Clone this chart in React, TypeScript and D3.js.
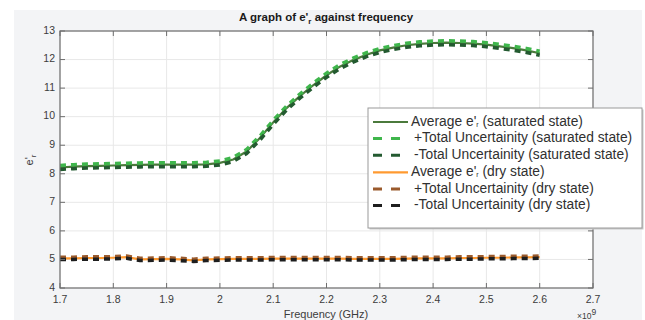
import React from "react";
import * as d3 from "d3";

// frequency in GHz (axis shows x10^9 Hz)
const freq = [
  1.7, 1.725, 1.75, 1.775, 1.8, 1.825, 1.85, 1.875, 1.9, 1.925, 1.95, 1.975,
  2.0, 2.025, 2.05, 2.075, 2.1, 2.125, 2.15, 2.175, 2.2, 2.225, 2.25, 2.275,
  2.3, 2.325, 2.35, 2.375, 2.4, 2.425, 2.45, 2.475, 2.5, 2.525, 2.55, 2.575, 2.6,
];

const satAvg = [
  8.22, 8.25, 8.27, 8.28, 8.29, 8.3, 8.31, 8.32, 8.32, 8.32, 8.32, 8.33,
  8.38, 8.5, 8.78, 9.25, 9.8, 10.3, 10.72, 11.1, 11.45, 11.75, 11.98, 12.17,
  12.32, 12.42, 12.5, 12.55, 12.58, 12.59, 12.58, 12.56, 12.52, 12.46, 12.4, 12.32, 12.22,
];
const satUnc = 0.07;

const dryAvg = [
  5.04, 5.04, 5.05, 5.05, 5.06, 5.08, 5.0, 5.01, 5.02, 5.0, 4.97, 5.0,
  5.01, 5.02, 5.02, 5.02, 5.03, 5.03, 5.03, 5.03, 5.03, 5.03, 5.02, 5.02,
  5.02, 5.02, 5.03, 5.04, 5.04, 5.04, 5.05, 5.05, 5.06, 5.06, 5.07, 5.07, 5.08,
];
const dryUnc = 0.04;

const xTicks = [1.7, 1.8, 1.9, 2.0, 2.1, 2.2, 2.3, 2.4, 2.5, 2.6, 2.7];
const yTicks = [4, 5, 6, 7, 8, 9, 10, 11, 12, 13];

const legendLabels = [
  "(saturated state)",
  "+Total Uncertainity (saturated state)",
  "-Total Uncertainity (saturated state)",
  "(dry state)",
  "+Total Uncertainity (dry state)",
  "-Total Uncertainity (dry state)",
];

const FONT = "'Liberation Sans', Arial, Helvetica, sans-serif";

export default function App() {
  const W = 645;
  const H = 320;
  const m = { left: 60, right: 593, top: 31, bottom: 288 };

  const x = d3.scaleLinear().domain([1.7, 2.7]).range([m.left, m.right]);
  const y = d3.scaleLinear().domain([4, 13]).range([m.bottom, m.top]);

  const line = (vals: number[], off: number) =>
    d3
      .line<number>()
      .x((_, i) => x(freq[i]))
      .y((v) => y(v + off))(vals) || "";

  const series = [
    { d: line(satAvg, 0), color: "#4b7a3c", dash: "", w: 2.2 },
    { d: line(satAvg, satUnc), color: "#3fb64c", dash: "6 5", w: 3.5 },
    { d: line(satAvg, -satUnc), color: "#235a30", dash: "6 5", w: 3.5 },
    { d: line(dryAvg, 0), color: "#ff9a30", dash: "", w: 2.2 },
    { d: line(dryAvg, dryUnc), color: "#9a5a2c", dash: "6 5", w: 3.5 },
    { d: line(dryAvg, -dryUnc), color: "#1e1e1e", dash: "6 5", w: 3.5 },
  ];

  const axisColor = "#6e6e6e";
  const lg = { x: 368, y: 108, w: 274, h: 120, row: 16.6 };

  return (
    <svg
      width={W}
      height={H}
      style={{ position: "fixed", left: 0, top: 0, background: "#fff" }}
      fontFamily={FONT}
    >
      <rect x={14} y={10} width={628} height={310} fill="#f3f4f6" />
      <rect
        x={m.left}
        y={m.top}
        width={m.right - m.left}
        height={m.bottom - m.top}
        fill="#fff"
      />
      {/* grid */}
      {xTicks.map((t) => (
        <line key={"gx" + t} x1={x(t)} x2={x(t)} y1={m.top} y2={m.bottom} stroke="#e8e8e8" />
      ))}
      {yTicks.map((t) => (
        <line key={"gy" + t} x1={m.left} x2={m.right} y1={y(t)} y2={y(t)} stroke="#e8e8e8" />
      ))}
      {/* data */}
      <g clipPath="url(#clip)">
        {series.map((s, i) => (
          <path
            key={i}
            d={s.d}
            fill="none"
            stroke={s.color}
            strokeWidth={s.w}
            strokeDasharray={s.dash || undefined}
          />
        ))}
      </g>
      {/* box + ticks */}
      <rect
        x={m.left}
        y={m.top}
        width={m.right - m.left}
        height={m.bottom - m.top}
        fill="none"
        stroke={axisColor}
        strokeWidth={1.2}
      />
      {xTicks.map((t) => (
        <g key={"tx" + t}>
          <line x1={x(t)} x2={x(t)} y1={m.bottom} y2={m.bottom - 5} stroke={axisColor} />
          <line x1={x(t)} x2={x(t)} y1={m.top} y2={m.top + 5} stroke={axisColor} />
          <text
            x={x(t)}
            y={300}
            fontSize={10.5}
            fill="#3c3c3c"
            textAnchor="middle"
            dominantBaseline="middle"
          >
            {d3.format("")(t)}
          </text>
        </g>
      ))}
      {yTicks.map((t) => (
        <g key={"ty" + t}>
          <line x1={m.left} x2={m.left + 5} y1={y(t)} y2={y(t)} stroke={axisColor} />
          <line x1={m.right} x2={m.right - 5} y1={y(t)} y2={y(t)} stroke={axisColor} />
          <text
            x={55}
            y={y(t)}
            fontSize={10.5}
            fill="#3c3c3c"
            textAnchor="end"
            dominantBaseline="middle"
          >
            {t}
          </text>
        </g>
      ))}
      {/* title */}
      <text x={326} y={21} fontSize={11.5} fontWeight="bold" fill="#1a1a1a" textAnchor="middle">
        A graph of e'
        <tspan dy={3} fontSize={8}>r</tspan>
        <tspan dy={-3}> against frequency</tspan>
      </text>
      {/* y label */}
      <text
        transform="translate(33,160) rotate(-90)"
        fontSize={11}
        fill="#3c3c3c"
        textAnchor="middle"
      >
        e'
        <tspan dy={3} fontSize={8}>r</tspan>
      </text>
      {/* x label */}
      <text x={326} y={318} fontSize={11} fill="#3c3c3c" textAnchor="middle">
        Frequency (GHz)
      </text>
      <text x={577} y={319} fontSize={8.5} fill="#3c3c3c">
        ×10
        <tspan dy={-4} fontSize={8.5}>9</tspan>
      </text>
      {/* legend */}
      <rect x={lg.x + 1.5} y={lg.y + 1.5} width={lg.w} height={lg.h} fill="#c8c8c8" />
      <rect x={lg.x} y={lg.y} width={lg.w} height={lg.h} fill="#fff" stroke="#9a9a9a" />
      {series.map((s, i) => {
        const cy = lg.y + 14 + i * lg.row + (i >= 3 ? 0.5 : 0);
        const avg = i === 0 || i === 3;
        return (
          <g key={"lg" + i}>
            <line
              x1={373}
              x2={408}
              y1={cy}
              y2={cy}
              stroke={s.color}
              strokeWidth={avg ? 2.2 : 3}
              strokeDasharray={avg ? undefined : "9 9"}
            />
            <text x={avg ? 411 : 414} y={cy} fontSize={13.8} fill="#303030" dominantBaseline="middle">
              {avg ? (
                <>
                  Average e'
                  <tspan dy={3} fontSize={7}>r</tspan>
                  <tspan dy={-3}> {legendLabels[i]}</tspan>
                </>
              ) : (
                legendLabels[i]
              )}
            </text>
          </g>
        );
      })}
      <defs>
        <clipPath id="clip">
          <rect x={m.left} y={m.top} width={m.right - m.left} height={m.bottom - m.top} />
        </clipPath>
      </defs>
    </svg>
  );
}
